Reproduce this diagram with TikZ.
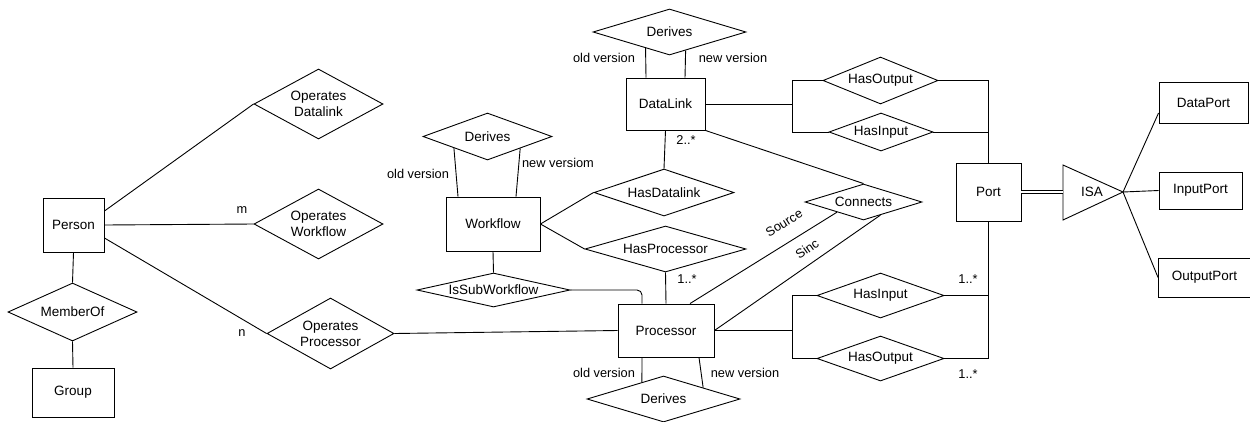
\documentclass[tikz,border=0pt]{standalone}
\usepackage{fontspec}
\setmainfont{Liberation Sans}
\usetikzlibrary{shapes.geometric,calc}
\begin{document}
\begin{tikzpicture}[x=1pt,y=-1pt,
  line width=0.9pt,
  ent/.style={draw, rectangle, inner sep=0pt, font=\fontsize{13.5}{16}\selectfont},
  rel/.style={draw, diamond, inner sep=0pt, align=center, font=\fontsize{13.5}{16}\selectfont},
  lbl/.style={inner sep=0pt, font=\fontsize{12.8}{15}\selectfont}
]
\useasboundingbox (0,0) rectangle (1250,421);

% entities
\node[ent, minimum width=61pt, minimum height=54pt] (person) at (73.5,225) {Person};
\node[ent, minimum width=82pt, minimum height=49pt] (group) at (73,392.5) {Group};
\node[ent, minimum width=94pt, minimum height=54pt] (workflow) at (493,224) {Workflow};
\node[ent, minimum width=79pt, minimum height=52pt] (dl) at (665.5,104) {DataLink};
\node[ent, minimum width=96pt, minimum height=53pt] (proc) at (666,330.5) {Processor};
\node[ent, minimum width=65pt, minimum height=58pt] (port) at (988.5,192) {Port};
\node[ent, minimum width=89pt, minimum height=41pt] (dataport) at (1203.5,102.5) {DataPort};
\node[ent, minimum width=83pt, minimum height=37pt] (inputport) at (1200.5,190.5) {InputPort};
\node[ent, minimum width=92pt, minimum height=39pt] (outputport) at (1204.5,277.5) {OutputPort};

% relationships
\node[rel, minimum width=129pt, minimum height=58pt, aspect=2.2] (memberof) at (72.5,312) {MemberOf};
\node[rel, minimum width=129pt, minimum height=70pt, aspect=1.84] (opdl) at (318.5,104) {Operates\\Datalink};
\node[rel, minimum width=129pt, minimum height=70pt, aspect=1.84] (opwf) at (318.5,224) {Operates\\Workflow};
\node[rel, minimum width=127pt, minimum height=71pt, aspect=1.8] (opproc) at (330.5,333.5) {Operates\\Processor};
\node[rel, minimum width=129pt, minimum height=47pt, aspect=2.7] (wfder) at (487.5,136.5) {Derives};
\node[rel, minimum width=153pt, minimum height=34pt, aspect=4.5] (issub) at (493.5,290) {IsSubWorkflow};
\node[rel, minimum width=153pt, minimum height=46pt, aspect=3.3] (dlder) at (669.5,32) {Derives};
\node[rel, minimum width=140pt, minimum height=47pt, aspect=3] (hasdl) at (664,192.5) {HasDatalink};
\node[rel, minimum width=161pt, minimum height=46pt, aspect=3.5] (hasproc) at (665.5,249) {HasProcessor};
\node[rel, minimum width=153pt, minimum height=46pt, aspect=3.3] (procder) at (663.5,399) {Derives};
\node[rel, minimum width=117pt, minimum height=36pt, aspect=3.25] (connects) at (863.5,202) {Connects};
\node[rel, minimum width=115pt, minimum height=47pt, aspect=2.45] (hasout1) at (880.5,80.5) {HasOutput};
\node[rel, minimum width=104pt, minimum height=38pt, aspect=2.7] (hasin1) at (881,132) {HasInput};
\node[rel, minimum width=127pt, minimum height=45pt, aspect=2.8] (hasin2) at (880.5,295.5) {HasInput};
\node[rel, minimum width=127pt, minimum height=45pt, aspect=2.8] (hasout2) at (880.5,358.5) {HasOutput};

% ISA triangle
\coordinate (isaL) at (1063,192);
\coordinate (isaTip) at (1123,192);
\draw (1063,165) -- (isaTip) -- (1063,220) -- cycle;
\node[inner sep=0pt, font=\fontsize{13.5}{16}\selectfont] (isa) at (1092,192) {ISA};

% junction coordinates
\coordinate (bL) at (792,0);

% connectors left part
\draw ([yshift=14pt]person.east) -- (opdl.west);
\draw (person.east) -- (opwf.west);
\draw ([yshift=-13pt]person.east) -- (opproc.west);
\draw (person.south) -- (memberof.north);
\draw (memberof.south) -- (group.north);
\draw (opproc.east) -- (proc.west);

% workflow
\draw ([xshift=-35pt]workflow.north) -- (wfder.199.5);
\draw ([xshift=23pt]workflow.north) -- (wfder.-20.4);
\draw (workflow.east) -- (hasdl.west);
\draw (workflow.east) -- (hasproc.west);
\draw (workflow.south) -- (issub.north);
\draw[rounded corners=5pt] (issub.east) -| ([xshift=-24pt]proc.north);

% datalink
\draw ([xshift=-19.5pt]dl.north) -- (dlder.214);
\draw ([xshift=19.5pt]dl.north) -- (dlder.-49.7);
\draw (dl.south) -- (hasdl.north);
\draw (dl.south east) -- (connects.north);
\draw (dl.east) -- (dl.east -| bL);
\draw (hasout1.west) -| (bL |- hasin1.west) -- (hasin1.west);
\draw (hasout1.east) -| (port.north);
\draw (hasin1.east) -- (hasin1.east -| port.north);

% processor
\draw (hasproc.south) -- (proc.north);
\draw ([xshift=-24pt]proc.south) -- (procder.142.5);
\draw ([xshift=33pt]proc.south) -- (procder.16.5);
\draw ([xshift=24pt]proc.north) -- (connects.201);
\draw (proc.east) -- (connects.-38);
\draw (proc.east) -- (proc.east -| bL);
\draw (hasin2.west) -| (bL |- hasout2.west) -- (hasout2.west);
\draw (hasin2.east) -| (port.south);
\draw (hasout2.east) -| (port.south);

% port / ISA
\draw[double, double distance=2.2pt] (port.east) -- (isaL);
\draw (isaTip) -- ([yshift=-10.5pt]dataport.west);
\draw (isaTip) -- (inputport.west);
\draw (isaTip) -- (outputport.west);

% labels
\node[lbl] (lm) at (242,210) {m};
\node[lbl] (ln) at (242,333) {n};
\node[lbl] (l1) at (604,58) {old version};
\node[lbl] (l2) at (733,58) {new version};
\node[lbl] (l3) at (418,174) {old version};
\node[lbl] (l4) at (558,163) {new versiom};
\node[lbl] (l5) at (686,140) {2..*};
\node[lbl] (l6) at (687,279) {1..*};
\node[lbl] (l7) at (604,373) {old version};
\node[lbl] (l8) at (745,373) {new version};
\node[lbl] (l9) at (968,279) {1..*};
\node[lbl] (l10) at (968,374) {1..*};
\node[lbl, rotate=32] (lsrc) at (784,223) {Source};
\node[lbl, rotate=35] (lsinc) at (807,249) {Sinc};
\end{tikzpicture}
\end{document}
